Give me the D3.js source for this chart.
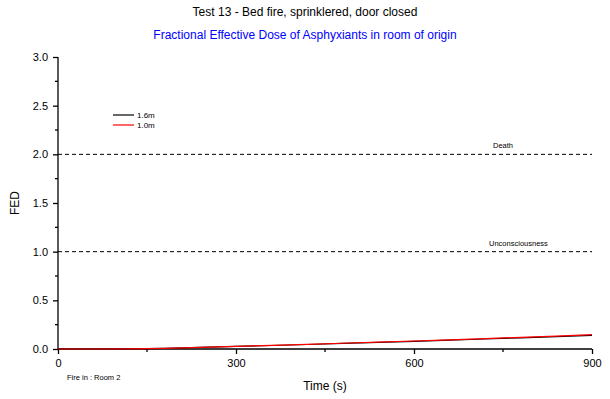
<!DOCTYPE html>
<html><head><meta charset="utf-8">
<script src="https://cdn.jsdelivr.net/npm/d3@7"></script>
<style>body{margin:0;background:#fff;}svg{display:block;font-family:"Liberation Sans",Arial,sans-serif;}</style>
</head><body>
<svg id="c" width="610" height="399"></svg>
<script>
const times = [0,60,120,180,240,300,360,420,480,540,600,660,720,780,840,900];
const fed16 = [0,0,0.001,0.006,0.016,0.026,0.036,0.046,0.057,0.068,0.079,0.091,0.103,0.115,0.127,0.139];
const fed10 = [0,0,0.001,0.007,0.017,0.027,0.037,0.048,0.059,0.070,0.082,0.094,0.107,0.120,0.133,0.147];
const seriesNames = ["1.6m","1.0m"];
const seriesColors = ["#000000","#ff0000"];
const thresholds = [2.0,1.0];
const thresholdLabels = ["Death","Unconsciousness"];
const xTicks = [0,300,600,900];
const yTicks = [0,0.5,1.0,1.5,2.0,2.5,3.0];

const svg = d3.select("#c");
const x = d3.scaleLinear().domain([0,900]).range([58,592]);
const y = d3.scaleLinear().domain([0,3]).range([349,57]);

svg.append("text").attr("x",305).attr("y",16).attr("text-anchor","middle").attr("font-size",12).attr("fill","#000").text("Test 13 - Bed fire, sprinklered, door closed");
svg.append("text").attr("x",305).attr("y",39).attr("text-anchor","middle").attr("font-size",12).attr("fill","#0000ff").text("Fractional Effective Dose of Asphyxiants in room of origin");

thresholds.forEach((t,i)=>{
  svg.append("line").attr("x1",x(0)).attr("x2",x(900)).attr("y1",y(t)).attr("y2",y(t))
    .attr("stroke","#000").attr("stroke-width",1).attr("stroke-dasharray","4,3");
});
svg.append("text").attr("x",x(750)).attr("y",y(2.0)-6).attr("text-anchor","middle").attr("font-size",7.5).attr("fill","#000").text(thresholdLabels[0]);
svg.append("text").attr("x",x(776)).attr("y",y(1.0)-6).attr("text-anchor","middle").attr("font-size",7.5).attr("fill","#000").text(thresholdLabels[1]);

const xAxis = d3.axisBottom(x).tickValues(xTicks).tickFormat(d3.format("d")).tickSize(5).tickPadding(5);
const gx = svg.append("g").attr("transform",`translate(0,${y(0)})`).call(xAxis);
gx.selectAll(".tick line").attr("stroke-width",1.3);
gx.select(".domain").attr("d",`M${x(0)},0H${x(900)}`).attr("stroke-width",1.3);
gx.selectAll("text").attr("font-size",11).attr("font-family","Liberation Sans, Arial").attr("fill","#000");
[150,450,750].forEach(v=>gx.append("line").attr("x1",x(v)).attr("x2",x(v)).attr("y1",0).attr("y2",3).attr("stroke","#000").attr("stroke-width",1.3));

const yAxis = d3.axisLeft(y).tickValues(yTicks).tickFormat(d3.format(".1f")).tickSize(5).tickPadding(5);
const gy = svg.append("g").attr("transform",`translate(${x(0)},0)`).call(yAxis);
gy.selectAll(".tick line").attr("stroke-width",1.3);
gy.select(".domain").attr("d",`M0,${y(0)}V${y(3)}`).attr("stroke-width",1.3);
gy.selectAll("text").attr("font-size",11).attr("font-family","Liberation Sans, Arial").attr("fill","#000");
d3.range(0.25,3,0.5).forEach(v=>gy.append("line").attr("x1",0).attr("x2",-3).attr("y1",y(v)).attr("y2",y(v)).attr("stroke","#000").attr("stroke-width",1.3));

svg.append("text").attr("transform",`translate(19,${y(1.5)}) rotate(-90)`).attr("text-anchor","middle").attr("font-size",12).attr("fill","#000").text("FED");
svg.append("text").attr("x",x(450)).attr("y",390).attr("text-anchor","middle").attr("font-size",12).attr("fill","#000").text("Time (s)");
svg.append("text").attr("x",67).attr("y",380).attr("font-size",7.5).attr("fill","#000").text("Fire in : Room 2");

const line = d3.line().x((d,i)=>x(times[i])).y(d=>y(d));
[fed16,fed10].forEach((s,i)=>{
  svg.append("path").attr("d",line(s)).attr("fill","none").attr("stroke",seriesColors[i]).attr("stroke-width",1.2);
});

seriesNames.forEach((n,i)=>{
  const ly = 115 + i*10;
  svg.append("line").attr("x1",113).attr("x2",134).attr("y1",ly).attr("y2",ly).attr("stroke",seriesColors[i]).attr("stroke-width",1.2);
  svg.append("text").attr("x",137).attr("y",ly+3).attr("font-size",8).attr("fill","#000").text(n);
});
</script>
</body></html>
